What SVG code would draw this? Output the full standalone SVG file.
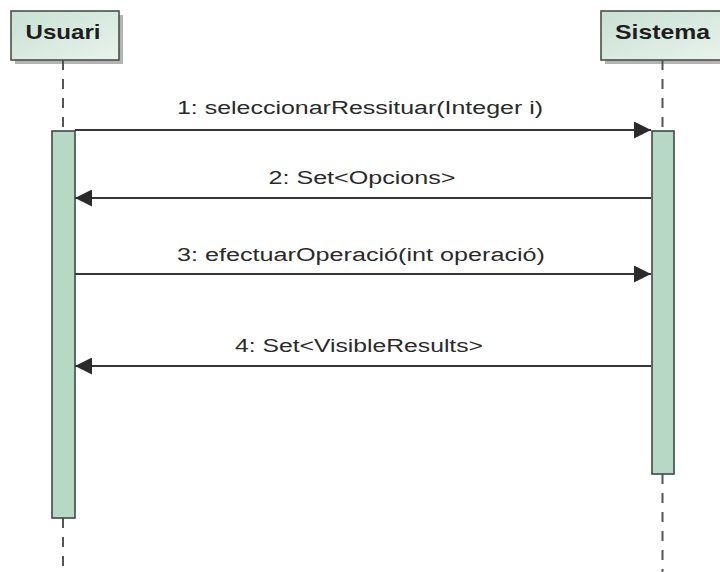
<svg xmlns="http://www.w3.org/2000/svg" width="720" height="572" viewBox="0 0 720 572">
<defs>
<linearGradient id="boxg" x1="0" y1="0" x2="1" y2="1">
<stop offset="0" stop-color="#c8e1d2"/>
<stop offset="1" stop-color="#e9f3ed"/>
</linearGradient>
<marker id="ah" viewBox="0 0 17 17" refX="17" refY="8.5" markerWidth="17" markerHeight="17" markerUnits="userSpaceOnUse" orient="auto">
<path d="M0,0 L17,8.5 L0,17 Z" fill="#2b2b2b"/>
</marker>
<style>
.box{fill:url(#boxg);stroke:#46524c;stroke-width:1.6}
.shadow{fill:#b4b4b4}
.title{font-family:"Liberation Sans",Arial,sans-serif;font-weight:bold;font-size:21px;fill:#1e1e1e}
.life{stroke:#555;stroke-width:2;stroke-dasharray:10 9;fill:none}
.act{fill:#b6d8c5;stroke:#3d4a44;stroke-width:1.6}
.msg{stroke:#363636;stroke-width:2;fill:none;marker-end:url(#ah)}
.lbl{font-family:"Liberation Sans",Arial,sans-serif;font-size:18px;fill:#2a2a2a;text-anchor:middle}
</style>
</defs>
<rect width="720" height="572" fill="#ffffff"/>
<g id="usuari">
<rect class="shadow" x="15" y="15" width="108" height="49"/>
<rect class="box" x="11" y="11" width="108" height="49"/>
<text class="title" x="63" y="39" text-anchor="middle" textLength="75" lengthAdjust="spacingAndGlyphs">Usuari</text>
<line class="life" x1="63" y1="60" x2="63" y2="131"/>
<line class="life" x1="63" y1="518" x2="63" y2="572"/>
<rect class="act" x="52" y="131" width="23" height="387"/>
</g>
<g id="sistema">
<rect class="shadow" x="605" y="15" width="124" height="49"/>
<rect class="box" x="601" y="11" width="124" height="49"/>
<text class="title" x="662.5" y="39" text-anchor="middle" textLength="95" lengthAdjust="spacingAndGlyphs">Sistema</text>
<line class="life" x1="662.5" y1="60" x2="662.5" y2="131"/>
<line class="life" x1="662.5" y1="474" x2="662.5" y2="572"/>
<rect class="act" x="652" y="131" width="22" height="343"/>
</g>
<g id="connectors">
<line class="msg" x1="75" y1="130" x2="651" y2="130"/>
<text class="lbl" x="360" y="114" textLength="366" lengthAdjust="spacingAndGlyphs">1: seleccionarRessituar(Integer i)</text>
<line class="msg" x1="651" y1="198" x2="75" y2="198"/>
<text class="lbl" x="362" y="184" textLength="187" lengthAdjust="spacingAndGlyphs">2: Set&lt;Opcions&gt;</text>
<line class="msg" x1="75" y1="274" x2="651" y2="274"/>
<text class="lbl" x="361" y="261" textLength="368" lengthAdjust="spacingAndGlyphs">3: efectuarOperació(int operació)</text>
<line class="msg" x1="651" y1="366" x2="75" y2="366"/>
<text class="lbl" x="359" y="352" textLength="248" lengthAdjust="spacingAndGlyphs">4: Set&lt;VisibleResults&gt;</text>
</g>
</svg>
